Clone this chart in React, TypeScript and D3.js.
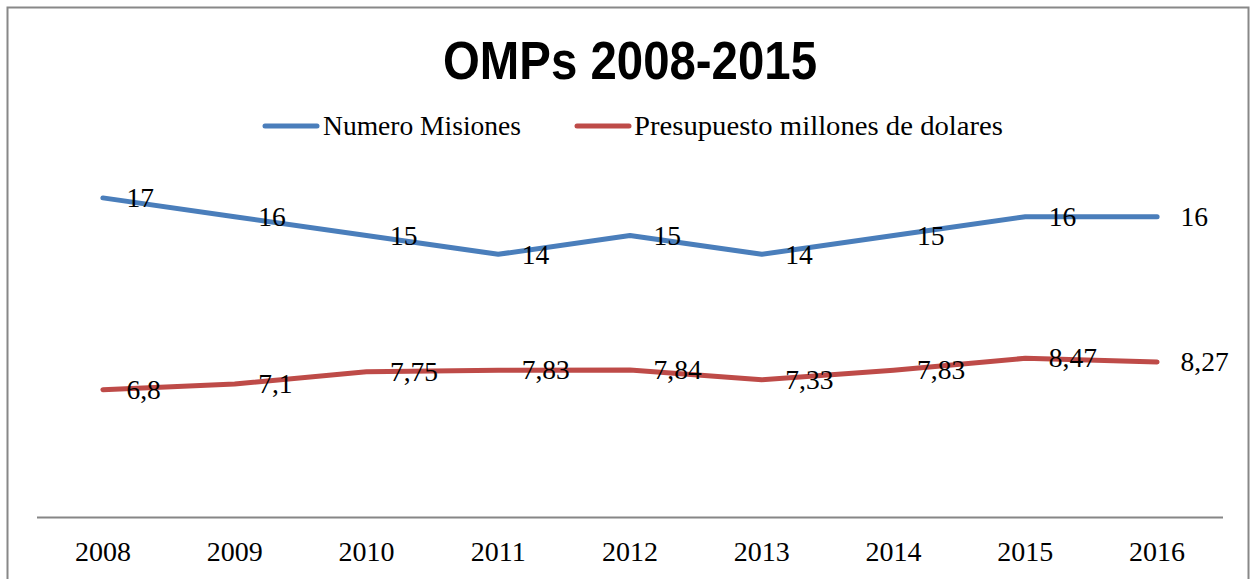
import React from "react";
import * as d3 from "d3";

const years = ["2008", "2009", "2010", "2011", "2012", "2013", "2014", "2015", "2016"];
const misiones = [17, 16, 15, 14, 15, 14, 15, 16, 16];
const presupuesto = [6.8, 7.1, 7.75, 7.83, 7.84, 7.33, 7.83, 8.47, 8.27];
const presupuestoLabels = ["6,8", "7,1", "7,75", "7,83", "7,84", "7,33", "7,83", "8,47", "8,27"];
const seriesNames = ["Numero Misiones", "Presupuesto millones de dolares"];
const seriesColors = ["#4A7EBB", "#BE4B48"];
const title = "OMPs 2008-2015";

const W = 1256;
const H = 579;

export default function App() {
  const x = d3.scaleBand<string>().domain(years).range([37, 1223]);
  const cx = (d: string) => (x(d) as number) + x.bandwidth() / 2;
  const y = d3.scaleLinear().domain([0, 20]).range([517.5, 141.5]);

  const line = d3
    .line<number>()
    .x((_, i) => cx(years[i]))
    .y((v) => y(v));

  const serif = "'Liberation Serif', 'Times New Roman', serif";
  const series = [
    { values: misiones, labels: misiones.map(String), color: seriesColors[0] },
    { values: presupuesto, labels: presupuestoLabels, color: seriesColors[1] },
  ];

  return (
    <svg
      width={W}
      height={H}
      style={{ position: "absolute", left: 0, top: 0, background: "#fff" }}
    >
      <rect x={7.5} y={7.5} width={1241} height={H + 20} fill="#fff" stroke="#888" strokeWidth={2} />
      <text
        x={630}
        y={79}
        textAnchor="middle"
        fontFamily="'Liberation Sans', Arial, sans-serif"
        fontWeight="bold"
        fontSize={53}
        textLength={374}
        lengthAdjust="spacingAndGlyphs"
        fill="#000"
      >
        {title}
      </text>

      {/* legend */}
      <line x1={265} x2={317} y1={126} y2={126} stroke={seriesColors[0]} strokeWidth={5} strokeLinecap="round" />
      <text x={323} y={135} fontFamily={serif} fontSize={26.5} textLength={198} lengthAdjust="spacingAndGlyphs" fill="#000">
        {seriesNames[0]}
      </text>
      <line x1={577} x2={629} y1={126} y2={126} stroke={seriesColors[1]} strokeWidth={5} strokeLinecap="round" />
      <text x={634} y={135} fontFamily={serif} fontSize={26.5} textLength={369} lengthAdjust="spacingAndGlyphs" fill="#000">
        {seriesNames[1]}
      </text>

      {/* axis */}
      <line x1={37} x2={1223} y1={517.5} y2={517.5} stroke="#868686" strokeWidth={2} />
      {years.map((yr) => (
        <text key={yr} x={cx(yr)} y={560.5} textAnchor="middle" fontFamily={serif} fontSize={28} fill="#000">
          {yr}
        </text>
      ))}

      {series.map((s, si) => (
        <g key={si}>
          <path
            d={line(s.values) || ""}
            fill="none"
            stroke={s.color}
            strokeWidth={5}
            strokeLinecap="round"
            strokeLinejoin="round"
          />
          {s.values.map((v, i) => (
            <text
              key={i}
              x={cx(years[i]) + 23.5}
              y={y(v) + 9.2}
              fontFamily={serif}
              fontSize={27.5}
              fill="#000"
            >
              {s.labels[i]}
            </text>
          ))}
        </g>
      ))}
    </svg>
  );
}
